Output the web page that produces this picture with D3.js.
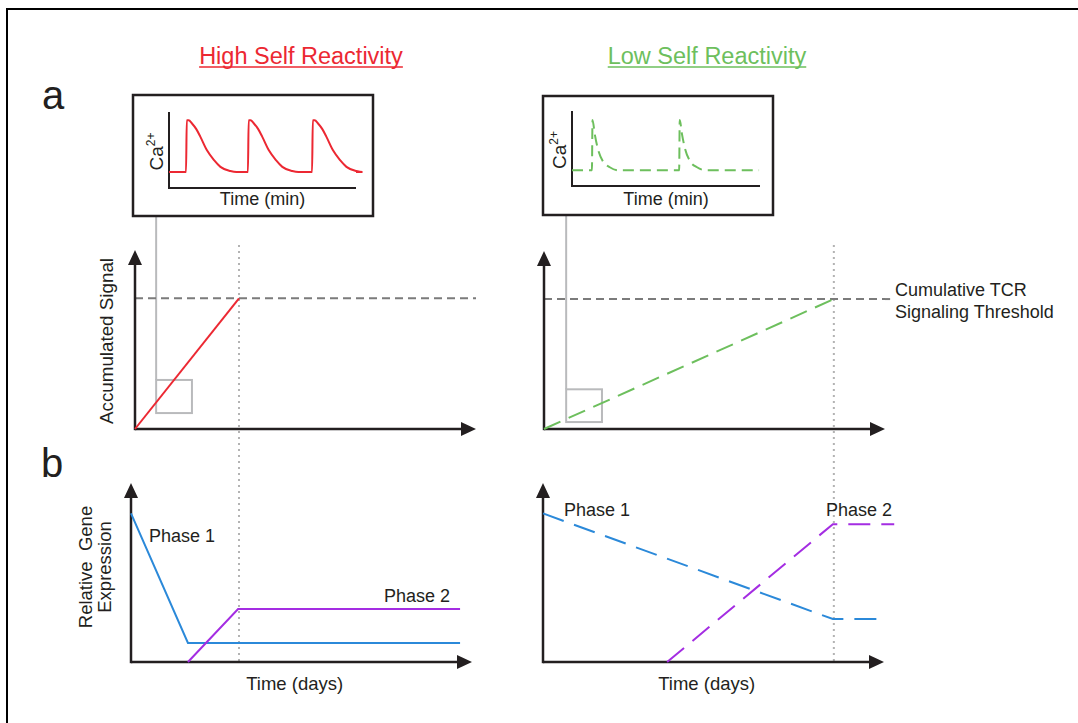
<!DOCTYPE html>
<html lang="en">
<head>
<meta charset="UTF-8" />
<title>High vs Low Self Reactivity</title>
<style>
  body { margin: 0; background: #fff; }
  svg text { font-family: "Liberation Sans", Arial, Helvetica, sans-serif; fill: #231f20; }
</style>
<script src="https://cdn.jsdelivr.net/npm/d3@7"></script>
</head>
<body>
<svg id="fig" width="1078" height="723"></svg>
<script>
// ---- data (arbitrary units, every axis runs 0-100) ----
// Ca2+ insets: spike times, baseline / peak level, decay profile [time after spike, fraction]
const caSpikesHigh = [9.1, 42.2, 76.5];
const caSpikesLow = [10.6, 57];
const caLevelsHigh = [21, 89];
const caLevelsLow = [21, 88];
const caEndHigh = 100;
const caEndLow = 99.5;
const decayHigh = [[0.4, 1], [1.4, 1], [3.2, 0.94], [5.5, 0.83], [7.7, 0.68], [11.2, 0.42], [15, 0.23], [18.4, 0.1], [23.7, 0.02], [27, 0]];
const decayLow = [[0.3, 1], [1.5, 0.72], [3.2, 0.42], [5.8, 0.18], [9.5, 0.06], [14, 0]];

// panel a: accumulated signal
const threshold = 73;
const signalHigh = [[0, 0], [30.5, 73]];
const signalLow = [[0, 0], [85, 73]];
const zoomBoxHigh = [6.2, 16.7, 8.9, 27.4]; // x0, x1, y0, y1
const zoomBoxLow = [6.5, 17, 3.9, 22.3];

// panel b: relative gene expression
const phase1High = [[0, 83], [16.7, 10.6], [96.5, 10.6]];
const phase2High = [[16.7, 0], [31.4, 29.6], [96.5, 29.6]];
const phase1Low = [[0, 83], [85, 24], [100.3, 24]];
const phase2Low = [[36.4, 0], [85, 77], [103, 77]];

const RED = "#ec2832", GREEN = "#6dbf5d", BLUE = "#2b89d9", PURPLE = "#a42de2";
const INK = "#231f20";

const svg = d3.select("#fig");

// outer frame (top + left edges visible)
svg.append("path").attr("d", "M7,723 V9 H1078").attr("fill", "none").attr("stroke", "#000").attr("stroke-width", 2);

function makeScales(x0, x1, y0, y1) {
  return {
    x: d3.scaleLinear().domain([0, 100]).range([x0, x1]),
    y: d3.scaleLinear().domain([0, 100]).range([y0, y1])
  };
}

function arrowAxes(s) {
  const ox = s.x(0), oy = s.y(0), tx = s.x(100), ty = s.y(100);
  const g = svg.append("g");
  g.append("line").attr("x1", ox).attr("y1", oy).attr("x2", tx - 12).attr("y2", oy)
    .attr("stroke", INK).attr("stroke-width", 2.5);
  g.append("line").attr("x1", ox).attr("y1", oy + 1.2).attr("x2", ox).attr("y2", ty + 12)
    .attr("stroke", INK).attr("stroke-width", 2.5);
  g.append("path").attr("d", `M${tx},${oy} L${tx - 15},${oy - 7} L${tx - 15},${oy + 7} Z`).attr("fill", INK);
  g.append("path").attr("d", `M${ox},${ty} L${ox - 7},${ty + 15} L${ox + 7},${ty + 15} Z`).attr("fill", INK);
}

function drawLine(s, data, color, dash, width) {
  const line = d3.line().x(d => s.x(d[0])).y(d => s.y(d[1]));
  svg.append("path").datum(data).attr("d", line)
    .attr("fill", "none").attr("stroke", color).attr("stroke-width", width || 2)
    .attr("stroke-dasharray", dash || null).attr("stroke-linejoin", "miter");
}

// ---- titles ----
function title(text, cx, color) {
  const t = svg.append("text").attr("x", cx).attr("y", 64).attr("text-anchor", "middle")
    .attr("font-size", 23.5).style("fill", color).text(text);
  const w = t.node().getComputedTextLength();
  svg.append("line").attr("x1", cx - w / 2).attr("x2", cx + w / 2).attr("y1", 67).attr("y2", 67)
    .attr("stroke", color).attr("stroke-width", 1.5);
}
title("High Self Reactivity", 301, RED);
title("Low Self Reactivity", 707, GREEN);

svg.append("text").attr("x", 42).attr("y", 109).attr("font-size", 40).text("a");
svg.append("text").attr("x", 41).attr("y", 477).attr("font-size", 40).text("b");

// ---- Ca2+ insets ----
function caTrace(spikes, levels, decay, end) {
  const [base, peak] = levels;
  const pts = [[0, base]];
  spikes.forEach(t => {
    pts.push([t, base]);
    decay.forEach(([dt, f]) => pts.push([t + dt, base + f * (peak - base)]));
  });
  pts.push([end, base]);
  return pts;
}

function inset(box, s, trace, color, dash) {
  svg.append("rect").attr("x", box[0]).attr("y", box[1]).attr("width", box[2] - box[0]).attr("height", box[3] - box[1])
    .attr("fill", "#fff").attr("stroke", INK).attr("stroke-width", 2.5);
  svg.append("path").attr("d", `M${s.x(0)},${s.y(100)} V${s.y(0)} H${s.x(100)}`)
    .attr("fill", "none").attr("stroke", INK).attr("stroke-width", 2);
  const line = d3.line().x(d => s.x(d[0])).y(d => s.y(d[1])).curve(d3.curveMonotoneX);
  svg.append("path").datum(trace).attr("d", line).attr("fill", "none")
    .attr("stroke", color).attr("stroke-width", 2).attr("stroke-dasharray", dash || null);
  const lbl = svg.append("text").attr("transform", `translate(${s.x(0) - 6},${s.y(48)}) rotate(-90)`)
    .attr("text-anchor", "middle").attr("font-size", 19);
  lbl.append("tspan").text("Ca");
  lbl.append("tspan").attr("font-size", 12).attr("dy", -8).text("2+");
  svg.append("text").attr("x", (s.x(0) + s.x(100)) / 2).attr("y", 205).attr("text-anchor", "middle")
    .attr("font-size", 18).text("Time (min)");
}

const insetHigh = makeScales(169, 356, 188, 112);
const insetLow = makeScales(572, 760, 186, 111);

// ---- panel scales ----
const aHigh = makeScales(135, 476, 429, 250);
const aLow = makeScales(544, 885, 429, 251);
const bHigh = makeScales(131, 472, 662, 483);
const bLow = makeScales(543, 884, 662, 483);

// zoom connectors (drawn under the insets)
function zoomBox(s, b, topY) {
  const g = svg.append("g").attr("stroke", "#b9babc").attr("stroke-width", 2).attr("fill", "none");
  g.append("line").attr("x1", s.x(b[0])).attr("x2", s.x(b[0])).attr("y1", topY).attr("y2", s.y(b[3]));
  g.append("rect").attr("x", s.x(b[0])).attr("y", s.y(b[3]))
    .attr("width", s.x(b[1]) - s.x(b[0])).attr("height", s.y(b[2]) - s.y(b[3]));
}
zoomBox(aHigh, zoomBoxHigh, 210);
zoomBox(aLow, zoomBoxLow, 210);

inset([133, 95, 373, 216], insetHigh, caTrace(caSpikesHigh, caLevelsHigh, decayHigh, caEndHigh), RED);
inset([543, 96, 773, 215], insetLow, caTrace(caSpikesLow, caLevelsLow, decayLow, caEndLow), GREEN, "11,6");

// vertical dotted guides running through panels a and b
[[aHigh, signalHigh[1][0]], [aLow, signalLow[1][0]]].forEach(([s, v]) => {
  svg.append("line").attr("x1", s.x(v)).attr("x2", s.x(v)).attr("y1", 245).attr("y2", 665)
    .attr("stroke", "#b3b3b3").attr("stroke-width", 2).attr("stroke-dasharray", "2,4");
});

// ---- panel a ----
[aHigh, aLow].forEach(s => {
  svg.append("line").attr("x1", s.x(0)).attr("x2", s.x(100)).attr("y1", s.y(threshold)).attr("y2", s.y(threshold))
    .attr("stroke", "#7b7b7b").attr("stroke-width", 2).attr("stroke-dasharray", "8,5");
});
svg.append("line").attr("x1", aLow.x(100)).attr("x2", aLow.x(101.5)).attr("y1", aLow.y(threshold)).attr("y2", aLow.y(threshold))
  .attr("stroke", "#7b7b7b").attr("stroke-width", 2);
arrowAxes(aHigh);
arrowAxes(aLow);
drawLine(aHigh, signalHigh, RED);
drawLine(aLow, signalLow, GREEN, "18,9");

svg.append("text").attr("transform", `translate(113,341) rotate(-90)`).attr("text-anchor", "middle")
  .attr("font-size", 18.8).text("Accumulated Signal");
svg.append("text").attr("x", 895).attr("y", 296).attr("font-size", 18).text("Cumulative TCR");
svg.append("text").attr("x", 895).attr("y", 318).attr("font-size", 18).text("Signaling Threshold");

// ---- panel b ----
arrowAxes(bHigh);
arrowAxes(bLow);
drawLine(bHigh, phase1High, BLUE);
drawLine(bHigh, phase2High, PURPLE);
drawLine(bLow, phase1Low, BLUE, "22,11");
drawLine(bLow, phase2Low, PURPLE, "22,11");

svg.append("text").attr("x", 149).attr("y", 542).attr("font-size", 18).text("Phase 1");
svg.append("text").attr("x", 384).attr("y", 602).attr("font-size", 18).text("Phase 2");
svg.append("text").attr("x", 564).attr("y", 516).attr("font-size", 18).text("Phase 1");
svg.append("text").attr("x", 826).attr("y", 516).attr("font-size", 18).text("Phase 2");

const ylab = svg.append("text").attr("transform", `translate(92,567) rotate(-90)`).attr("text-anchor", "middle")
  .attr("font-size", 18.5);
ylab.append("tspan").attr("x", 0).attr("dy", 0).text("Relative\u00a0 Gene");
ylab.append("tspan").attr("x", 0).attr("dy", 19).text("Expression");

[bHigh, bLow].forEach(s => {
  svg.append("text").attr("x", s.x(48)).attr("y", 690).attr("text-anchor", "middle").attr("font-size", 18.5).text("Time (days)");
});
</script>
</body>
</html>
